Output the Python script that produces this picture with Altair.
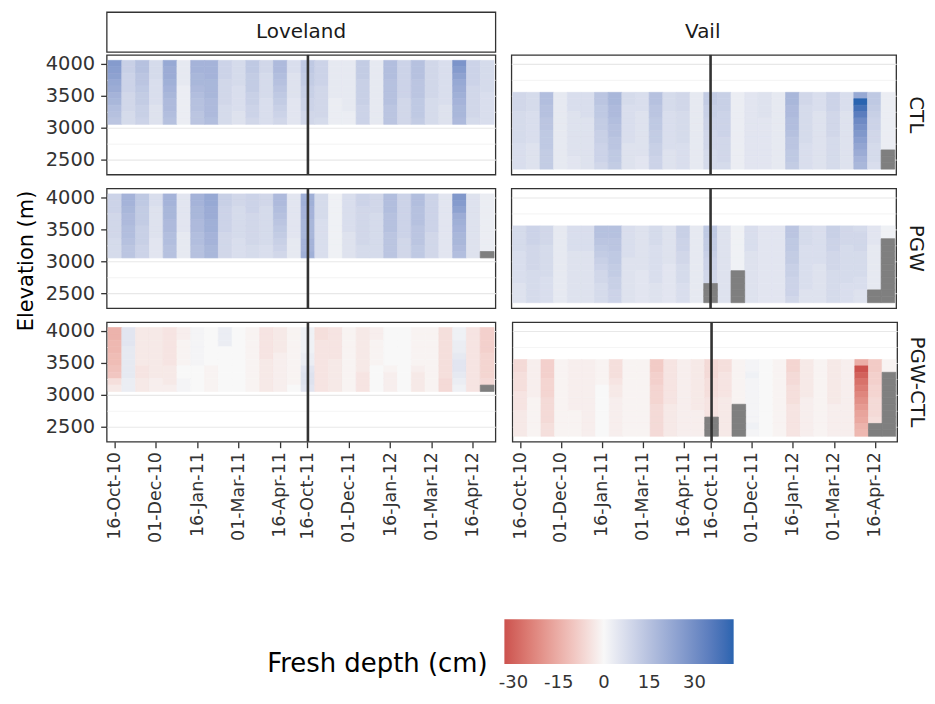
import altair as alt
import pandas as pd

FONT = "DejaVu Sans"

dates = ["16-Oct-10", "01-Nov-10", "16-Nov-10", "01-Dec-10", "16-Dec-10", "01-Jan-11", "16-Jan-11",
         "01-Feb-11", "16-Feb-11", "01-Mar-11", "16-Mar-11", "01-Apr-11", "16-Apr-11", "01-May-11",
         "16-Oct-11", "01-Nov-11", "16-Nov-11", "01-Dec-11", "16-Dec-11", "01-Jan-12", "16-Jan-12",
         "01-Feb-12", "16-Feb-12", "01-Mar-12", "16-Mar-12", "01-Apr-12", "16-Apr-12", "01-May-12"]
tick_dates = ["16-Oct-10", "01-Dec-10", "16-Jan-11", "01-Mar-11", "16-Apr-11",
              "16-Oct-11", "01-Dec-11", "16-Jan-12", "01-Mar-12", "16-Apr-12"]
season_break = ["16-Oct-11"]
sites = ["Loveland", "Vail"]
scenarios = ["CTL", "PGW", "PGW-CTL"]
lov_elev = [4000, 3900, 3800, 3700, 3600, 3500, 3400, 3300, 3200, 3100]
vail_elev = [3500, 3400, 3300, 3200, 3100, 3000, 2900, 2800, 2700, 2600, 2500, 2400]
elev_ticks = [2500, 2750, 3000, 3250, 3500, 3750, 4000]
legend_ticks = [-30, -15, 0, 15, 30]
N = None

# fresh depth (cm); one list per date, values from top elevation to bottom
lov_ctl = [
    [26, 25, 24, 22, 21, 19, 18, 16, 15, 14], [11, 11, 10, 10, 10, 9, 9, 9, 8, 8],
    [15, 15, 14, 14, 13, 12, 12, 11, 11, 10], [8, 8, 8, 7, 7, 7, 7, 6, 6, 6],
    [22, 21, 21, 20, 19, 18, 17, 17, 16, 15], [4, 4, 4, 4, 3, 3, 3, 3, 3, 3],
    [19, 19, 18, 18, 17, 16, 15, 15, 14, 14], [19, 19, 19, 18, 18, 18, 17, 17, 17, 16],
    [10, 10, 10, 9, 9, 9, 9, 8, 8, 8], [8, 8, 8, 8, 7, 7, 7, 7, 6, 6],
    [13, 13, 12, 12, 12, 11, 11, 10, 10, 9], [9, 9, 8, 8, 8, 8, 7, 7, 7, 7],
    [17, 17, 16, 15, 14, 13, 12, 11, 10, 9], [7, 7, 6, 6, 6, 6, 5, 5, 5, 5],
    [13, 13, 12, 12, 11, 11, 10, 10, 9, 9], [10, 10, 10, 10, 9, 9, 9, 9, 9, 8],
    [4, 4, 4, 4, 4, 4, 3, 3, 3, 3], [4, 4, 4, 4, 4, 4, 4, 4, 3, 3],
    [12, 12, 12, 11, 11, 11, 11, 10, 10, 10], [4, 4, 4, 4, 4, 4, 4, 4, 4, 4],
    [16, 16, 16, 15, 15, 15, 15, 14, 14, 14], [10, 10, 10, 10, 10, 10, 9, 9, 9, 9],
    [15, 15, 15, 14, 14, 14, 13, 13, 13, 12], [9, 9, 9, 9, 9, 9, 8, 8, 8, 8],
    [7, 7, 7, 7, 7, 7, 7, 6, 6, 6], [28, 26, 24, 22, 21, 20, 19, 18, 18, 17],
    [10, 10, 10, 10, 9, 9, 9, 9, 9, 8], [8, 8, 8, 8, 8, 7, 7, 7, 7, 7],
]
lov_pgw = [
    [10, 10, 10, 9, 9, 9, 9, 8, 8, 8], [19, 19, 18, 17, 17, 16, 16, 15, 14, 14],
    [13, 13, 12, 12, 12, 11, 11, 11, 10, 10], [7, 7, 6, 6, 6, 6, 6, 5, 5, 5],
    [19, 19, 18, 18, 17, 17, 16, 16, 15, 15], [5, 5, 5, 5, 5, 5, 4, 4, 4, 4],
    [19, 19, 18, 18, 17, 17, 16, 16, 15, 15], [22, 22, 21, 21, 20, 20, 19, 19, 18, 18],
    [11, 11, 10, 10, 10, 10, 9, 9, 9, 9], [9, 9, 8, 8, 8, 8, 8, 7, 7, 7],
    [10, 10, 10, 9, 9, 9, 9, 9, 8, 8], [9, 9, 8, 8, 8, 8, 8, 8, 7, 7],
    [17, 17, 16, 15, 14, 13, 12, 11, 10, 9], [5, 5, 5, 5, 5, 5, 5, 4, 4, 4],
    [20, 20, 19, 19, 18, 18, 18, 19, 19, 20], [8, 8, 8, 8, 7, 7, 7, 7, 7, 7],
    [2, 2, 2, 2, 2, 2, 2, 2, 2, 2], [7, 7, 7, 7, 7, 7, 6, 6, 6, 6],
    [10, 10, 9, 9, 9, 9, 9, 9, 8, 8], [9, 9, 9, 8, 8, 8, 8, 8, 8, 8],
    [16, 16, 16, 15, 15, 15, 14, 14, 14, 14], [10, 10, 10, 10, 10, 10, 10, 9, 9, 9],
    [16, 16, 15, 15, 15, 14, 14, 14, 13, 13], [10, 10, 10, 10, 10, 10, 9, 9, 9, 9],
    [5, 5, 5, 5, 5, 5, 5, 5, 5, 5], [27, 26, 24, 21, 20, 19, 18, 18, 17, 16],
    [6, 6, 6, 6, 6, 6, 6, 6, 6, 6], [3, 3, 3, 3, 3, 3, 3, 3, 3, N],
]
lov_diff = [
    [-14, -14, -13, -13, -12, -12, -11, -10, -5, -3], [5, 5, 5, 4, 4, 4, 4, 4, 3, 3],
    [-3, -3, -3, -3, -3, -3, -4, -4, -3, -3], [-3, -3, -3, -3, -3, -3, -3, -3, -2, -2],
    [-4, -4, -4, -4, -4, -4, -3, -3, -3, -2], [-2, -2, -1, -1, -1, -1, 0, 0, 1, 1],
    [1, 1, 1, 1, 1, 1, 0, 0, 0, 0], [0, 0, 0, 0, 0, 0, -1, -1, -1, -1],
    [3, 3, 3, 0, 0, 0, 0, 0, 0, 0], [0, 0, 0, 0, 0, 0, 0, 0, 0, 0],
    [-1, -1, -1, -1, -1, -1, -1, -1, -1, -1], [-4, -4, -4, -4, -4, -3, -3, -3, -3, -3],
    [-3, -3, -3, -3, -2, -2, -2, -2, -2, -2], [-1, -1, -1, -1, -1, -1, -1, -1, -1, 0],
    [2, 2, 2, 2, 3, 3, 5, 6, 6, 5], [-5, -5, -4, -4, -4, -4, -4, -4, -4, -4],
    [-4, -4, -4, -4, -4, -3, -3, -3, -3, -3], [-1, -1, -1, -1, -1, -1, -1, -1, -1, -1],
    [-3, -3, -3, -3, -3, -3, -3, -4, -4, -4], [-2, -2, -1, -1, -1, -1, 0, 0, 0, 0],
    [0, 0, 0, 0, 0, 0, -1, -2, -2, -2], [0, 0, 0, 0, 0, 0, 0, 0, 0, 0],
    [-1, -1, -1, -1, -1, -1, -2, -3, -3, -3], [-1, -1, -1, -1, -1, -1, -1, -1, -1, -1],
    [-5, -5, -5, -5, -5, -5, -5, -5, -6, -6], [2, 2, 3, 3, 4, 5, 5, 4, 3, 2],
    [-4, -4, -4, -4, -4, -4, -4, -4, -4, -4], [-8, -8, -8, -8, -7, -7, -7, -7, -6, N],
]
vail_ctl = [
    [9, 9, 9, 8, 8, 8, 8, 8, 7, 7, 7, 7], [8, 8, 8, 7, 7, 7, 7, 7, 6, 6, 6, 6],
    [16, 16, 15, 15, 14, 14, 13, 13, 13, 12, 12, 12], [4, 4, 4, 4, 4, 4, 4, 4, 4, 4, 4, 4],
    [7, 7, 7, 6, 6, 6, 6, 6, 6, 6, 5, 5], [7, 7, 7, 7, 6, 6, 6, 6, 6, 6, 6, 6],
    [14, 14, 13, 13, 12, 12, 11, 11, 10, 10, 10, 9], [18, 18, 17, 17, 16, 15, 15, 14, 14, 13, 13, 12],
    [8, 8, 7, 7, 7, 7, 7, 7, 6, 6, 6, 6], [7, 7, 7, 6, 6, 6, 6, 6, 6, 6, 5, 5],
    [15, 15, 14, 14, 13, 13, 12, 12, 11, 11, 10, 10], [8, 8, 8, 7, 7, 7, 7, 7, 7, 6, 6, 6],
    [9, 9, 9, 8, 8, 8, 8, 8, 7, 7, 7, 7], [4, 4, 4, 4, 4, 4, 4, 4, 4, 4, 4, 4],
    [12, 12, 11, 11, 10, 10, 9, 9, 9, 8, 8, 8], [11, 11, 11, 10, 10, 10, 10, 9, 9, 9, 9, 8],
    [3, 3, 3, 3, 3, 3, 3, 3, 3, 3, 3, 3], [5, 5, 5, 5, 5, 5, 5, 5, 5, 5, 5, 5],
    [6, 6, 6, 6, 5, 5, 5, 5, 5, 5, 5, 5], [4, 4, 4, 4, 4, 4, 4, 4, 4, 4, 4, 4],
    [18, 18, 17, 17, 16, 16, 15, 14, 14, 13, 13, 12], [9, 9, 8, 8, 8, 8, 8, 8, 7, 7, 7, 7],
    [7, 7, 7, 6, 6, 6, 6, 6, 6, 6, 6, 6], [10, 10, 10, 9, 9, 9, 9, 8, 8, 8, 8, 8],
    [7, 7, 7, 6, 6, 6, 6, 6, 6, 6, 6, 6], [22, 43, 39, 35, 31, 29, 27, 25, 23, 21, 19, 18],
    [13, 13, 12, 11, 10, 10, 9, 9, 8, 8, 8, 7], [3, 3, 3, 3, 3, 3, 3, 3, 3, N, N, N],
]
vail_pgw = [
    [8, 8, 8, 8, 7, 7, 7, 7, 7, 6, 6, 6], [10, 10, 10, 9, 9, 9, 9, 8, 8, 8, 8, 8],
    [9, 9, 9, 8, 8, 8, 8, 8, 7, 7, 7, 7], [4, 4, 4, 4, 4, 4, 4, 4, 4, 4, 4, 4],
    [7, 7, 7, 7, 6, 6, 6, 6, 6, 6, 6, 6], [7, 7, 7, 7, 6, 6, 6, 6, 6, 6, 6, 6],
    [15, 15, 14, 13, 12, 11, 10, 9, 9, 8, 8, 8], [15, 15, 14, 14, 13, 13, 12, 12, 11, 11, 10, 10],
    [7, 7, 7, 7, 7, 6, 6, 6, 6, 6, 6, 6], [6, 6, 6, 6, 6, 6, 6, 5, 5, 5, 5, 5],
    [8, 8, 8, 7, 7, 7, 7, 7, 7, 6, 6, 6], [6, 6, 6, 6, 6, 6, 5, 5, 5, 5, 5, 5],
    [11, 11, 10, 10, 9, 9, 8, 8, 8, 7, 7, 7], [4, 4, 4, 4, 4, 4, 4, 4, 4, 4, 4, 4],
    [13, 13, 12, 12, 11, 10, 10, 9, 9, N, N, N], [6, 6, 6, 6, 6, 6, 6, 6, 6, 6, 6, 6],
    [2, 2, 2, 2, 2, 2, 2, N, N, N, N, N], [7, 7, 7, 7, 6, 6, 6, 6, 6, 6, 6, 6],
    [5, 5, 5, 5, 5, 5, 5, 5, 5, 5, 5, 5], [5, 5, 5, 5, 5, 5, 5, 5, 5, 5, 5, 5],
    [14, 14, 13, 13, 12, 12, 11, 11, 10, 10, 10, 9], [8, 8, 8, 7, 7, 7, 7, 7, 7, 7, 6, 6],
    [7, 7, 7, 7, 7, 7, 6, 6, 6, 6, 6, 6], [11, 11, 10, 10, 9, 9, 9, 8, 8, 8, 8, 8],
    [9, 9, 9, 8, 8, 8, 8, 8, 8, 7, 7, 7], [8, 9, 9, 9, 8, 8, 8, 8, 7, 7, 6, 6],
    [5, 5, 5, 4, 4, 4, 4, 4, 4, 4, N, N], [2, 2, N, N, N, N, N, N, N, N, N, N],
]
vail_diff = [
    [-6, -6, -5, -5, -5, -4, -4, -4, -3, -3, -3, -3], [-2, -2, -2, -2, -2, -2, -1, -1, -1, -1, -1, -1],
    [-8, -8, -8, -7, -7, -7, -6, -6, -6, -6, -5, -5], [-1, -1, -1, -1, -1, -1, -1, -1, -1, -1, -1, -1],
    [-2, -2, -2, -2, -2, -2, -2, -2, -1, -1, -1, -1], [-2, -2, -2, -2, -2, -2, -2, -2, -2, -2, -2, -2],
    [-1, -1, -1, -1, 0, 0, 0, 0, 0, 0, 0, 0], [-5, -5, -5, -4, -3, -3, -2, -2, -2, -2, -2, -2],
    [-1, -1, -1, -1, -1, -1, -1, -1, -1, -1, -1, -1], [-1, -1, -1, -1, -1, -1, -1, -1, -1, -1, -1, -1],
    [-9, -9, -8, -8, -7, -7, -7, -6, -6, -6, -6, -6], [-4, -4, -4, -4, -4, -4, -4, -3, -3, -3, -3, -3],
    [-2, -2, -2, -2, -2, -2, -2, -2, -2, -2, -2, -2], [-3, -3, -3, -3, -3, -3, -3, -3, -2, -2, -2, -2],
    [-6, -6, -6, -5, -5, -5, -4, -4, -4, N, N, N], [-5, -5, -4, -4, -4, -4, -3, -3, -3, -3, -3, -3],
    [-1, -1, -1, -1, -1, -1, -1, N, N, N, N, N], [1, 1, 2, 1, 1, 1, 1, 1, 1, 1, 2, 1],
    [0, 0, 0, 0, 0, 0, 0, 0, 0, 0, 0, 0], [-1, -1, -1, -1, -1, -1, -1, -1, -1, -1, -1, -1],
    [-7, -7, -6, -6, -5, -5, -5, -4, -4, -4, -4, -4], [-3, -3, -3, -3, -3, -3, -2, -2, -2, -2, -2, -2],
    [-1, -1, -1, -1, -1, -1, -1, -1, -1, -1, -1, -1], [-3, -3, -3, -3, -3, -3, -3, -2, -2, -2, -2, -2],
    [-2, -2, -2, -2, -2, -2, -2, -2, -2, -2, -2, -2], [-15, -33, -30, -27, -25, -23, -21, -19, -17, -16, -14, -13],
    [-9, -9, -8, -8, -7, -7, -6, -6, -6, -5, N, N], [-1, -1, N, N, N, N, N, N, N, N, N, N],
]

panels = {
    ("Loveland", "CTL"): (lov_elev, lov_ctl), ("Loveland", "PGW"): (lov_elev, lov_pgw),
    ("Loveland", "PGW-CTL"): (lov_elev, lov_diff), ("Vail", "CTL"): (vail_elev, vail_ctl),
    ("Vail", "PGW"): (vail_elev, vail_pgw), ("Vail", "PGW-CTL"): (vail_elev, vail_diff),
}
records = []
for (site, scen), (elevs, mat) in panels.items():
    for date, col in zip(dates, mat):
        for elev, v in zip(elevs, col):
            records.append({"site": site, "scenario": scen, "date": date, "elev": elev,
                            "depth": float("nan") if v is None else float(v)})
df = pd.DataFrame(records)
df["lo"] = df["elev"] - 50
df["hi"] = df["elev"] + 50

PW = {"Loveland": 390, "Vail": 386}
PH = 120
YDOM = [2265, 4135]
GREY_TXT = "#333333"
major = "datum.value % 500 === 0"

xscale = alt.Scale(domain=dates, paddingInner=0, paddingOuter=0.1)
yscale = alt.Scale(domain=YDOM, nice=False, zero=False)

color_scale = alt.Scale(domain=[-33, 0, 43], range=["#CC524E", "#F8F8F8", "#2A64B0"], interpolate="lab")
legend = alt.Legend(type="gradient", orient="none", legendX=161, legendY=609, direction="horizontal",
                    gradientLength=230, gradientThickness=45, gradientStrokeWidth=0,
                    title="Fresh depth (cm)", titleOrient="left", titleFont=FONT, titleFontSize=26,
                    titleFontWeight="normal", titleColor="black", titleAnchor="end",
                    titleBaseline="middle", titlePadding=16, titleLimit=600, labelFont=FONT,
                    labelFontSize=18, labelColor=GREY_TXT, labelOffset=10, values=legend_ticks,
                    labelExpr="datum.value < 0 ? '-' + abs(datum.value) : '' + datum.value")


def x_axis(bottom):
    if not bottom:
        return None
    return alt.Axis(values=tick_dates, labelAngle=-90, labelFont=FONT, labelFontSize=17.5,
                    labelColor=GREY_TXT, labelPadding=4, tickSize=6, tickColor=GREY_TXT,
                    tickWidth=1.3, domain=False, grid=False, title=None, labelOverlap=False)


def y_axis(left):
    grid_color = {"condition": {"test": major, "value": "#E8E8E8"}, "value": "#EFEFEF"}
    grid_w = {"condition": {"test": major, "value": 1.1}, "value": 0.7}
    if left:
        return alt.Axis(values=elev_ticks, format="d",
                        labelExpr=f"{major} ? datum.label : ''", labelFont=FONT, labelFontSize=19.5,
                        labelColor=GREY_TXT, labelPadding=6, tickSize=6, tickColor=GREY_TXT,
                        tickWidth=1.3, tickOpacity={"condition": {"test": major, "value": 1}, "value": 0},
                        domain=False, grid=True, gridColor=grid_color, gridWidth=grid_w, title=None)
    return alt.Axis(values=elev_ticks, labels=False, ticks=False, domain=False, grid=True,
                    gridColor=grid_color, gridWidth=grid_w, title=None, minExtent=0)


def panel(site, scen, bottom):
    d = df[(df.site == site) & (df.scenario == scen)]
    valid = d[d.depth.notna()]
    na = d[d.depth.isna()]
    left = site == "Loveland"
    X = alt.X("date:N", sort=dates, scale=xscale, axis=x_axis(bottom))
    Y = alt.Y("lo:Q", scale=yscale, axis=y_axis(left))
    # tile edges painted with the tile's own colour, so no hairline seams appear between tiles
    tiles = alt.Chart(valid).mark_rect(
        stroke={"expr": "scale('color', datum.depth)"}, strokeWidth=0.7).encode(
        x=X, y=Y, y2="hi:Q",
        color=alt.Color("depth:Q", scale=color_scale, legend=legend),
    )
    layers = [tiles]
    if len(na):
        layers.append(alt.Chart(na).mark_rect(color="#7F7F7F", stroke="#7F7F7F", strokeWidth=0.7)
                      .encode(x=X, y=Y, y2="hi:Q"))
    rule = alt.Chart(pd.DataFrame({"date": season_break})).mark_rule(
        color="#333333", strokeWidth=2.6).encode(
        x=alt.X("date:N", sort=dates, scale=xscale, axis=x_axis(bottom), bandPosition=0.5))
    layers.append(rule)
    return alt.layer(*layers).properties(width=PW[site], height=PH)


def strip_top(site):
    d = pd.DataFrame({"label": [site], "pos": [sum(YDOM) / 2]})
    enc = {"text": "label:N"}
    if site == "Loveland":
        enc["y"] = alt.Y("pos:Q", scale=yscale, axis=alt.Axis(
            values=[sum(YDOM) / 2], labelExpr="'4000'", labelFont=FONT, labelFontSize=19.5,
            labelColor="transparent", labelPadding=6, tickSize=6, tickColor="transparent",
            domain=False, grid=False, title=None))
    return alt.Chart(d).mark_text(font=FONT, fontSize=20, color="#1A1A1A").encode(**enc).properties(
        width=PW[site], height=40)


def strip_right(scen):
    d = pd.DataFrame({"label": [scen]})
    return alt.Chart(d).mark_text(font=FONT, fontSize=20, color="#1A1A1A", angle=90).encode(
        text="label:N").properties(width=37, height=PH)


top_row = alt.hconcat(strip_top("Loveland"), strip_top("Vail"), spacing=14)
rows = []
for i, scen in enumerate(scenarios):
    bottom = i == len(scenarios) - 1
    rows.append(alt.hconcat(panel("Loveland", scen, bottom),
                            alt.hconcat(panel("Vail", scen, bottom), strip_right(scen), spacing=0),
                            spacing=14))
body = alt.vconcat(*rows, spacing=10)

chart = alt.vconcat(
    top_row, body, spacing=0,
    title=alt.TitleParams("Elevation (m)", orient="left", anchor="middle", font=FONT, fontSize=21,
                          fontWeight="normal", color="black", offset=8, dx=91),
).configure(
    padding={"left": 15, "top": 10, "right": 0, "bottom": 0}, background="white"
).configure_view(stroke="#333333", strokeWidth=1.3, fill="white")

chart.save("out.html", embed_options={"renderer": "svg", "actions": False})
